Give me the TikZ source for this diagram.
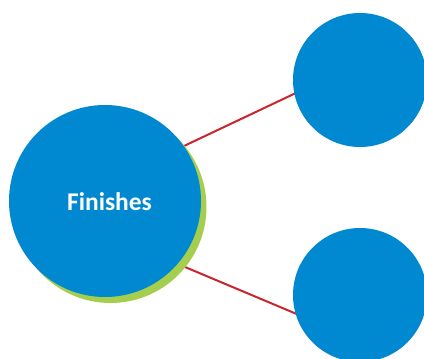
\documentclass[tikz,border=0pt]{standalone}
\usepackage{fontspec}
\setmainfont{Carlito}
\definecolor{cblue}{HTML}{0089D0}
\definecolor{cgreen}{HTML}{A6CE4E}
\definecolor{cred}{HTML}{C8262C}
\begin{document}
\begin{tikzpicture}[x=1pt,y=-1pt,
  bubble/.style={circle,fill=cblue,draw=none,inner sep=0pt},
  link/.style={draw=cred,line width=2pt}]
\useasboundingbox (0,0) rectangle (424,359);
% connectors (behind circles)
\coordinate (t1) at (170,152.6);
\coordinate (t2) at (320,81.6);
\coordinate (b1) at (170,260.7);
\coordinate (b2) at (320,323.8);
\draw[link] (t1) -- (t2);
\draw[link] (b1) -- (b2);
% shadow
\node[circle,fill=cgreen,inner sep=0pt,minimum size=192pt] (shadow) at (110.5,207) {};
\node[bubble,minimum size=192pt] (big) at (105,201) {};
\node[text=white,font=\bfseries\fontsize{25.5}{30}\selectfont] (lbl) at (109.5,201.5) {Finishes};
\node[bubble,minimum size=134pt] (top) at (360,80) {};
\node[bubble,minimum size=134pt] (bot) at (360,295) {};
\end{tikzpicture}
\end{document}
